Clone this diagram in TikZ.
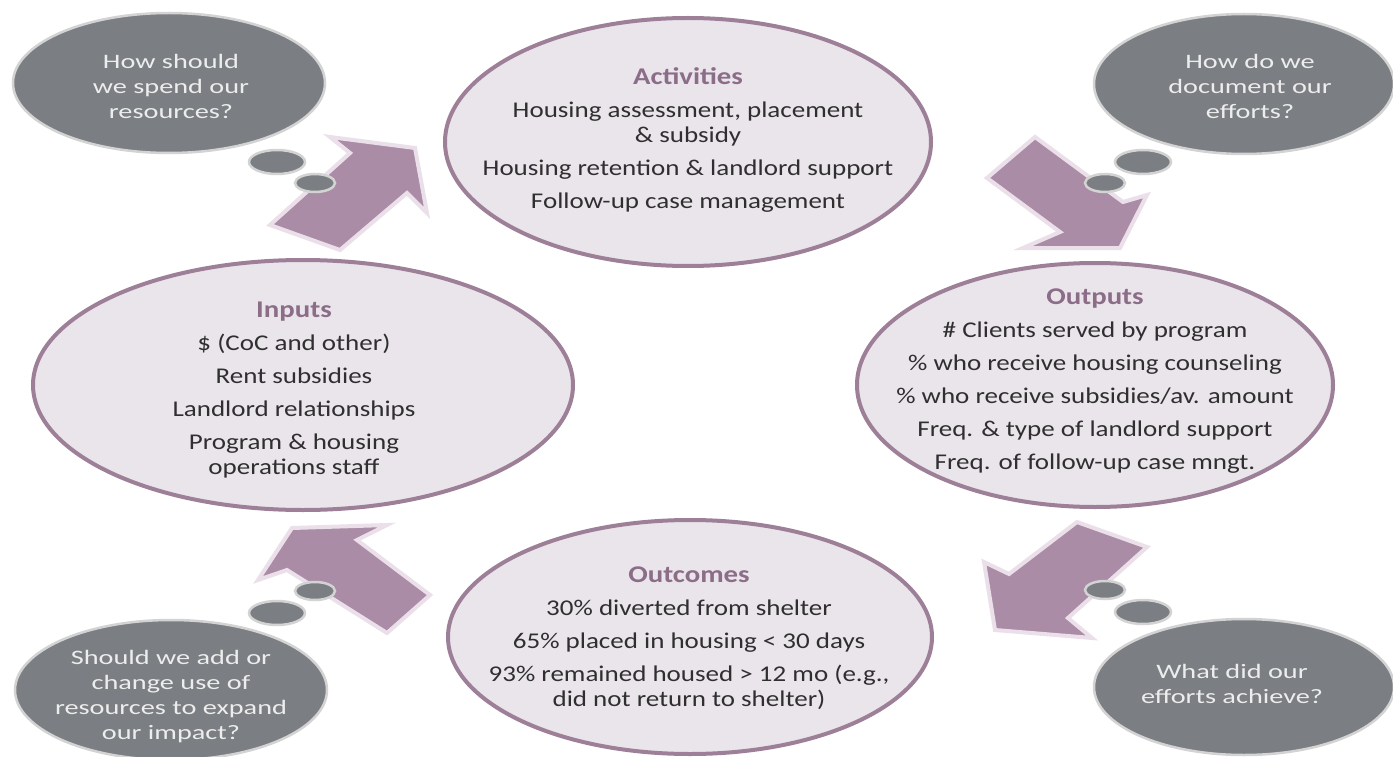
\documentclass[tikz,border=0pt]{standalone}
\usepackage{fontspec}
\setmainfont{Carlito}
\newfontfamily\bodyfont[FakeStretch=1.2]{Carlito}
\newfontfamily\qfont[FakeStretch=1.38]{Carlito}
\usetikzlibrary{shapes.geometric}
\definecolor{ellfill}{HTML}{EAE4EB}
\definecolor{ellbord}{HTML}{9D8098}
\definecolor{arrfill}{HTML}{AA8CA6}
\definecolor{arrbord}{HTML}{EBE0EA}
\definecolor{grayfill}{HTML}{7B7F83}
\definecolor{graybord}{HTML}{D3D3D3}
\definecolor{qtext}{HTML}{EDEDED}
\definecolor{titlecol}{HTML}{8B6D88}
\definecolor{bodycol}{HTML}{2F2F2F}
\begin{document}
\begin{tikzpicture}[x=1pt,y=-1pt,
  mainell/.style={ellipse, draw=ellbord, line width=4pt, fill=ellfill, inner sep=0pt},
  qell/.style={ellipse, draw=graybord, line width=2.5pt, fill=grayfill, inner sep=0pt},
  blockarrow/.style={fill=arrfill, draw=arrbord, line width=4pt, line join=miter},
  body/.style={font=\bodyfont\fontsize{22.5}{25}\selectfont, text=bodycol, align=center, inner sep=0pt},
  qtxt/.style={font=\qfont\fontsize{20.5}{25}\selectfont, text=qtext, align=center, inner sep=0pt}
]
\useasboundingbox (0,0) rectangle (1393,757);
\fill[white] (0,0) rectangle (1393,757);

% block arrows
\draw[blockarrow] (415,148) -- (427,213) -- (407,193) -- (340,250) -- (270,225) -- (350,153) -- (330,137) -- cycle;
\draw[blockarrow] (1035,137) -- (1123,202) -- (1147,195) -- (1120,248) -- (1023,248) -- (1060,232) -- (987,178) -- cycle;
\draw[blockarrow] (292,528) -- (387,525) -- (357,540) -- (430,595) -- (387,633) -- (287,570) -- (258,580) -- cycle;
\draw[blockarrow] (1077,522) -- (1147,547) -- (1068,618) -- (1092,638) -- (995,630) -- (984,562) -- (1009,574) -- cycle;

% main ellipses
\node[mainell, minimum width=486pt, minimum height=248pt] (act) at (688,142) {};
\node[mainell, minimum width=540pt, minimum height=250pt] (inp) at (303,385) {};
\node[mainell, minimum width=476pt, minimum height=244pt] (outp) at (1095,385) {};
\node[mainell, minimum width=484pt, minimum height=234pt] (outc) at (690,637) {};

\node[body, anchor=north] (acttxt) at (688,67) {{\bfseries\color{titlecol}\fontsize{24}{25}\selectfont Activities}\\[8pt]
Housing assessment, placement\\ \& subsidy\\[8pt] Housing retention \& landlord support\\[8pt] Follow-up case management};
\node[body, anchor=north] (inptxt) at (294,302) {{\bfseries\color{titlecol}\fontsize{24}{25}\selectfont Inputs}\\[8pt]
\$ (CoC and other)\\[8pt] Rent subsidies\\[8pt] Landlord relationships\\[8pt] Program \& housing\\ operations staff};
\node[body, anchor=north] (outptxt) at (1095,289) {{\bfseries\color{titlecol}\fontsize{24}{25}\selectfont Outputs}\\[8pt]
\# Clients served by program\\[8pt] \% who receive housing counseling\\[8pt] \% who receive subsidies/av. amount\\[8pt] Freq. \& type of landlord support\\[8pt] Freq. of follow-up case mngt.};
\node[body, anchor=north] (outctxt) at (689,567) {{\bfseries\color{titlecol}\fontsize{24}{25}\selectfont Outcomes}\\[8pt]
30\% diverted from shelter\\[8pt] 65\% placed in housing < 30 days\\[8pt] 93\% remained housed > 12 mo (e.g.,\\ did not return to shelter)};

% question bubbles
\node[qell, minimum width=312pt, minimum height=140pt] (q1) at (169,83) {};
\node[qell, minimum width=56pt, minimum height=24pt] (q1a) at (277,162) {};
\node[qell, minimum width=40pt, minimum height=18pt] (q1b) at (315,183) {};
\node[qtxt, anchor=north] (q1t) at (171,54) {How should\\ we spend our\\ resources?};

\node[qell, minimum width=300pt, minimum height=140pt] (q2) at (1244,84) {};
\node[qell, minimum width=56pt, minimum height=24pt] (q2a) at (1143,162) {};
\node[qell, minimum width=40pt, minimum height=18pt] (q2b) at (1105,183) {};
\node[qtxt, anchor=north] (q2t) at (1250,54) {How do we\\ document our\\ efforts?};

\node[qell, minimum width=312pt, minimum height=140pt] (q3) at (171,690) {};
\node[qell, minimum width=56pt, minimum height=24pt] (q3a) at (277,613) {};
\node[qell, minimum width=40pt, minimum height=18pt] (q3b) at (315,591) {};
\node[qtxt, anchor=north] (q3t) at (171,650) {Should we add or\\ change use of\\ resources to expand\\ our impact?};

\node[qell, minimum width=300pt, minimum height=136pt] (q4) at (1244,687) {};
\node[qell, minimum width=40pt, minimum height=18pt] (q4b) at (1105,590) {};
\node[qell, minimum width=56pt, minimum height=24pt] (q4a) at (1143,612) {};
\node[qtxt, anchor=north] (q4t) at (1232,664) {What did our\\ efforts achieve?};
\end{tikzpicture}
\end{document}
